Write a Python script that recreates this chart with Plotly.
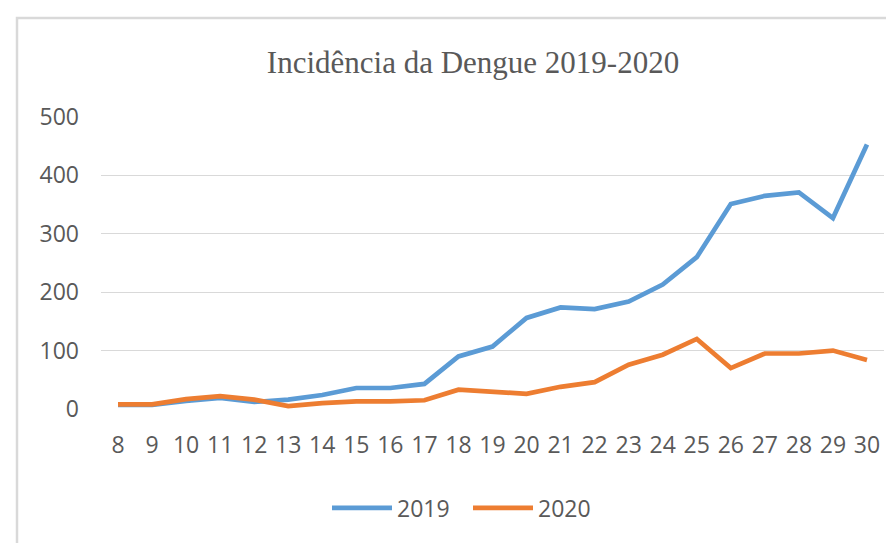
import plotly.graph_objects as go

weeks = list(range(8, 31))
cases_2019 = [7, 7, 14, 19, 12, 16, 24, 36, 36, 43, 90, 107, 156, 174, 171, 184, 213, 260, 351, 365, 371, 327, 453]
cases_2020 = [8, 8, 17, 22, 16, 5, 10, 13, 13, 15, 33, 30, 26, 38, 46, 76, 93, 120, 70, 95, 95, 100, 84]
series_names = ["2019", "2020"]
y_ticks = [0, 100, 200, 300, 400, 500]
title_text = "Incidência da Dengue 2019-2020"

TEXT = "#595959"
GRID = "#D9D9D9"

fig = go.Figure()
fig.add_trace(go.Scatter(x=weeks, y=cases_2019, mode="lines", name=series_names[0],
                         line=dict(color="#5B9BD5", width=4.7)))
fig.add_trace(go.Scatter(x=weeks, y=cases_2020, mode="lines", name=series_names[1],
                         line=dict(color="#ED7D31", width=4.7)))

W, H = 894, 543
ml, mr, mt, mb = 93, 18, 109, 142
pw = W - ml - mr
ph = H - mt - mb

def px_x(x):
    return (x - ml) / pw

def px_y(y):
    return (H - mb - y) / ph

fig.update_layout(
    width=W, height=H,
    margin=dict(l=ml, r=mr, t=mt, b=mb, autoexpand=False),
    paper_bgcolor="white", plot_bgcolor="white",
    font=dict(family="Open Sans", size=23, color=TEXT),
    title=dict(text=title_text, x=465 / W, xanchor="center", xref="container",
               y=1 - 54 / H, yanchor="middle", yref="container",
               font=dict(family="Liberation Serif", size=31, color=TEXT)),
    xaxis=dict(range=[7.5, 30.5], tickmode="array", tickvals=weeks,
               ticktext=[str(w) for w in weeks], showgrid=False, zeroline=False,
               showline=False, ticks="", ticklabelstandoff=20,
               tickfont=dict(family="Open Sans", size=23, color=TEXT)),
    yaxis=dict(range=[0, 500], tickmode="array", tickvals=y_ticks,
               showgrid=True, gridcolor=GRID, gridwidth=1.3, zeroline=False,
               showline=False, ticks="", ticklabelstandoff=21,
               tickfont=dict(family="Open Sans", size=23, color=TEXT)),
    legend=dict(orientation="h", x=px_x(319), xanchor="left", y=px_y(500),
                yanchor="middle", font=dict(family="Open Sans", size=23, color=TEXT),
                itemwidth=60, entrywidth=66, entrywidthmode="pixels",
                bgcolor="rgba(0,0,0,0)"),
    showlegend=True,
    shapes=[dict(type="rect", xref="paper", yref="paper",
                 x0=px_x(9), x1=px_x(W + 20), y0=px_y(H + 20), y1=px_y(10),
                 line=dict(color=GRID, width=2.5), fillcolor="rgba(0,0,0,0)",
                 layer="below")],
)

fig.write_html("out.html")
